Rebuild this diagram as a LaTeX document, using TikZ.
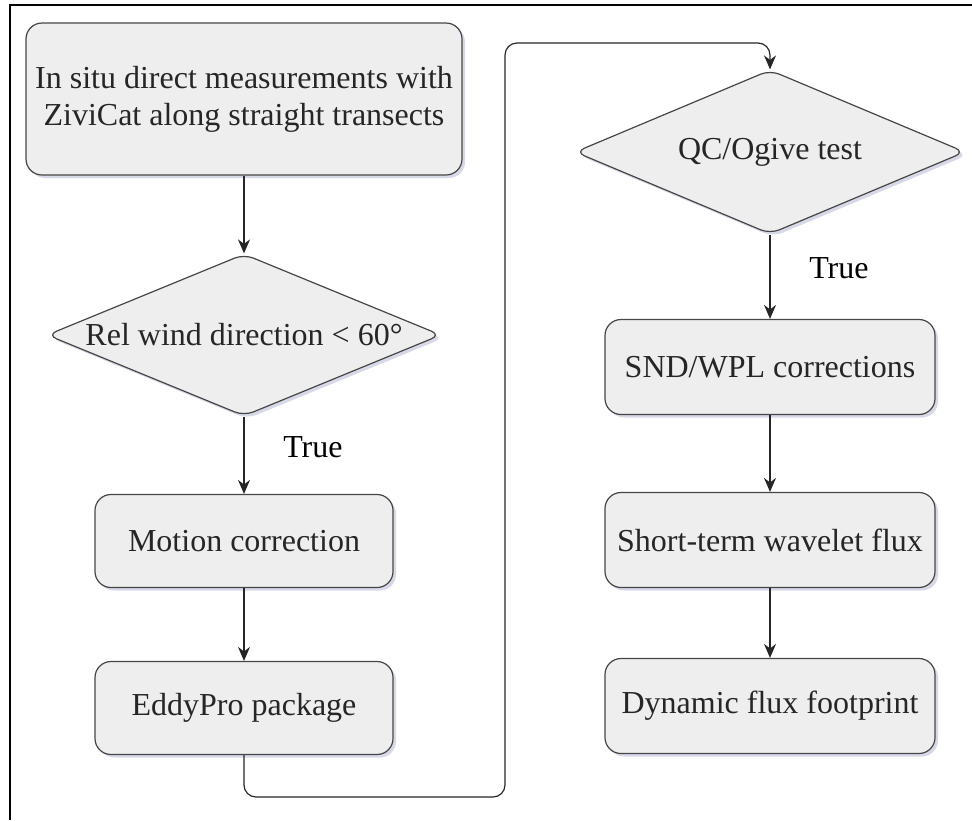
\documentclass[tikz,border=0pt]{standalone}
\usepackage{fontspec}
\setmainfont{Liberation Serif}
\usetikzlibrary{shapes.geometric, positioning, arrows.meta, shadows}

\definecolor{boxfill}{RGB}{238,238,238}
\definecolor{boxline}{RGB}{70,70,70}
\definecolor{shade}{RGB}{140,146,190}

\begin{document}
\begin{tikzpicture}[x=0.5pt, y=-0.5pt, >={Stealth[length=7pt,width=6pt]}, line width=0.6pt,
    font=\fontsize{16}{18.5}\selectfont,
    softshadow/.style={drop shadow={shadow xshift=1.5pt, shadow yshift=-1.5pt, fill=shade, opacity=0.35}},
    proc/.style={rectangle, rounded corners=8pt, draw=boxline, fill=boxfill, text=black!85,
        minimum width=149pt, minimum height=46.5pt, align=center, softshadow},
    test/.style={diamond, rounded corners=5pt, draw=boxline, fill=boxfill, text=black!85,
        inner sep=0pt, aspect=2.4, minimum width=197pt, minimum height=81pt, softshadow},
    link/.style={->, draw=black!85, rounded corners=6pt}]
    \useasboundingbox (0,0) rectangle (972,820);

    % frame, only top and left edges fall inside the page
    \draw[line width=1pt] (10,820) -- (10,5) -- (972,5);

    % left column
    \node[proc, minimum width=218pt, minimum height=76pt] (start) at (244,99)
        {In situ direct measurements with\\ZiviCat along straight transects};
    \node[test] (wind) [below of=start, node distance=118pt] {Rel wind direction < 60°};
    \node[proc] (motion) [below of=wind, node distance=103pt] {Motion correction};
    \node[proc] (eddy) [below of=motion, node distance=83.5pt] {EddyPro package};

    % right column
    \node[test, minimum width=195pt, minimum height=82pt] (ogive) at (770,152) {QC/Ogive test};
    \node[proc, minimum width=165pt, minimum height=47.5pt] (snd) [below of=ogive, node distance=107.5pt] {SND/WPL corrections};
    \node[proc, minimum width=165pt, minimum height=47.5pt] (wavelet) [below of=snd, node distance=86.5pt] {Short-term wavelet flux};
    \node[proc, minimum width=165pt, minimum height=47.5pt] (foot) [below of=wavelet, node distance=83pt] {Dynamic flux footprint};

    \coordinate (low) at (505,797);
    \coordinate (high) at (505,43);

    \draw[link] (start) -- (wind);
    \draw[link] (wind) -- node[right=16pt, pos=0.4] {True} (motion);
    \draw[link] (motion) -- (eddy);
    \draw[link] (eddy.south) |- (low) -- (high) -| (ogive.north);
    \draw[link] (ogive) -- node[right=16pt, pos=0.4] {True} (snd);
    \draw[link] (snd) -- (wavelet);
    \draw[link] (wavelet) -- (foot);
\end{tikzpicture}
\end{document}
